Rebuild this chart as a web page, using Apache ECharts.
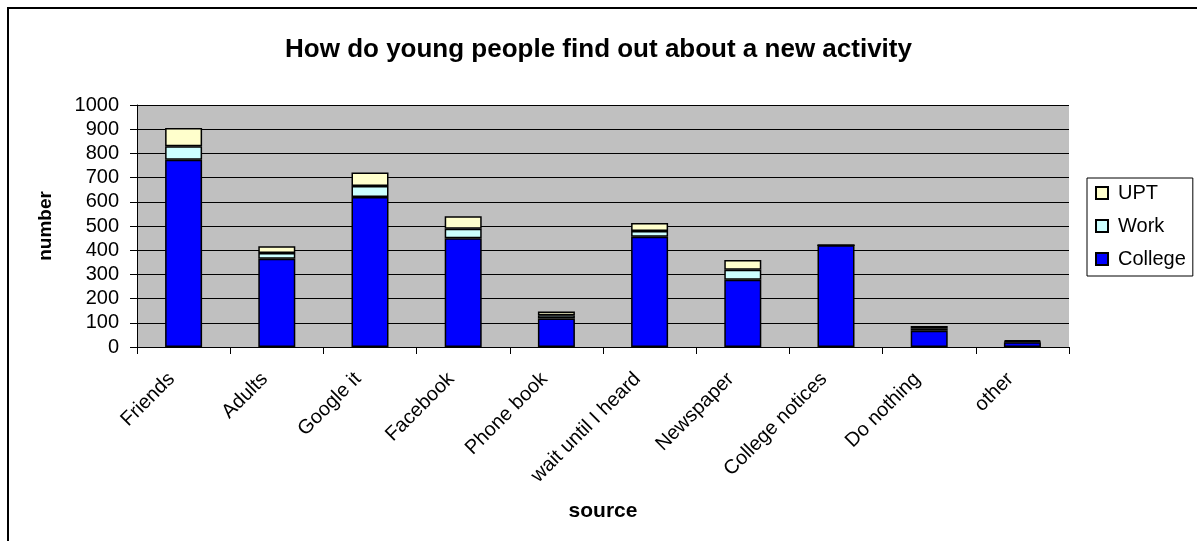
<!DOCTYPE html>
<html>
<head>
<meta charset="utf-8">
<script src="https://cdn.jsdelivr.net/npm/echarts@6/dist/echarts.min.js"></script>
<style>
  html, body { margin: 0; padding: 0; background: #fff; }
  #chart { width: 1197px; height: 541px; }
</style>
</head>
<body>
<div id="chart"></div>
<script>
// Sources young people use to hear about new activities
const categories = ['Friends', 'Adults', 'Google it', 'Facebook', 'Phone book',
  'wait until I heard', 'Newspaper', 'College notices', 'Do nothing', 'other'];

// Stacked counts per group
const college = [774, 365, 620, 449, 118, 456, 278, 420, 67, 20];
const work    = [56, 23, 45, 40, 13, 23, 41, 0, 8, 3];
const upt     = [75, 28, 56, 51, 16, 33, 41, 0, 12, 5];

const yTicks = { min: 0, max: 1000, interval: 100 };

const FONT = '"Liberation Sans", Arial, sans-serif';
const chart = echarts.init(document.getElementById('chart'), null, { renderer: 'canvas' });

const barBase = { type: 'bar', stack: 'total', barWidth: 37 };
const edge = { borderColor: '#000', borderWidth: 1.5 };

chart.setOption({
  animation: false,
  backgroundColor: '#fff',
  textStyle: { fontFamily: FONT },
  title: {
    text: 'How do young people find out about a new activity',
    left: 'center',
    top: 32,
    textStyle: { fontFamily: FONT, fontSize: 26, fontWeight: 'bold', color: '#000' }
  },
  graphic: [{
    type: 'rect',
    shape: { x: 8, y: 8, width: 1300, height: 700 },
    style: { fill: 'none', stroke: '#000', lineWidth: 2 },
    silent: true,
    z: -1
  }],
  legend: {
    orient: 'vertical',
    left: 1087,
    top: 178,
    data: ['UPT', 'Work', 'College'],
    icon: 'rect',
    itemWidth: 12,
    itemHeight: 12,
    itemGap: 13,
    padding: [5, 7, 7, 8],
    backgroundColor: '#fff',
    borderColor: '#000',
    borderWidth: 1,
    textStyle: { fontFamily: FONT, fontSize: 20, color: '#000', padding: [0, 0, 0, 5] }
  },
  grid: {
    left: 137, right: 128, top: 105, bottom: 194,
    show: true,
    backgroundColor: '#c0c0c0',
    borderWidth: 0
  },
  xAxis: {
    type: 'category',
    data: categories,
    name: 'source',
    nameLocation: 'middle',
    nameGap: 154,
    nameTextStyle: { fontFamily: FONT, fontSize: 21, fontWeight: 'bold', color: '#000' },
    axisLine: { lineStyle: { color: '#000', width: 1 } },
    axisTick: { show: true, length: 7, alignWithLabel: false, lineStyle: { color: '#000' } },
    axisLabel: {
      rotate: 45, fontFamily: FONT, fontSize: 20, color: '#000',
      margin: 17, padding: [0, 17, 0, 0], interval: 0
    }
  },
  yAxis: {
    type: 'value',
    min: yTicks.min,
    max: yTicks.max,
    interval: yTicks.interval,
    name: 'number',
    nameLocation: 'middle',
    nameGap: 82,
    nameTextStyle: { fontFamily: FONT, fontSize: 19, fontWeight: 'bold', color: '#000' },
    axisLine: { show: true, lineStyle: { color: '#000', width: 1 } },
    axisTick: { show: true, length: 7, lineStyle: { color: '#000' } },
    axisLabel: { fontFamily: FONT, fontSize: 20, color: '#000', margin: 18, formatter: v => String(v) },
    splitLine: { show: true, lineStyle: { color: '#000', width: 1 } }
  },
  series: [
    Object.assign({}, barBase, { name: 'College', data: college, itemStyle: Object.assign({ color: '#0000ff' }, edge) }),
    Object.assign({}, barBase, { name: 'Work', data: work, itemStyle: Object.assign({ color: '#ccffff' }, edge) }),
    Object.assign({}, barBase, { name: 'UPT', data: upt, itemStyle: Object.assign({ color: '#ffffcc' }, edge) })
  ]
});
</script>
</body>
</html>
